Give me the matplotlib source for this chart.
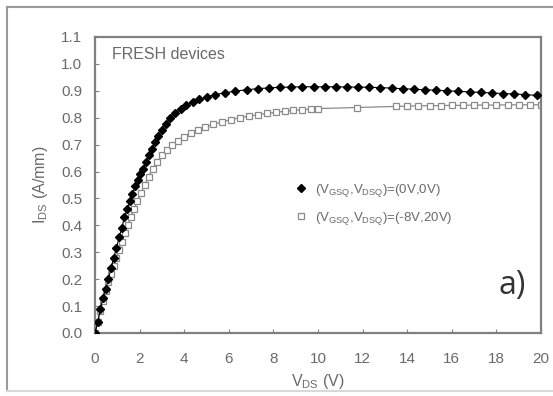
import matplotlib
matplotlib.use('Agg')
from matplotlib import pyplot as plt
from matplotlib.lines import Line2D

plt.rcParams['font.family'] = ['Liberation Sans', 'DejaVu Sans']
plt.rcParams['mathtext.fontset'] = 'custom'
plt.rcParams['mathtext.rm'] = 'Liberation Sans'

# Data (points are denser on the steep part)
vds_fresh = [0.0, 0.12, 0.24, 0.36, 0.48, 0.60, 0.72, 0.84, 0.96, 1.08,
             1.20, 1.32, 1.44, 1.56, 1.68, 1.80, 1.92, 2.04, 2.16, 2.28,
             2.40, 2.54, 2.68, 2.84, 3.00, 3.18, 3.38, 3.60, 3.84, 4.10,
             4.38, 4.68, 5.00, 5.40, 5.85, 6.3, 6.8, 7.3, 7.8, 8.3,
             8.8, 9.3, 9.8, 10.3, 10.8, 11.3, 11.8, 12.3, 12.8, 13.3,
             13.8, 14.3, 14.8, 15.3, 15.8, 16.3, 16.8, 17.3, 17.8, 18.3,
             18.8, 19.3, 19.8]
ids_fresh = [0.00, 0.04, 0.09, 0.13, 0.165, 0.20, 0.24, 0.28, 0.315, 0.355,
             0.39, 0.43, 0.46, 0.49, 0.515, 0.545, 0.57, 0.59, 0.61, 0.635,
             0.66, 0.685, 0.71, 0.733, 0.755, 0.777, 0.798, 0.817, 0.833, 0.847,
             0.858, 0.868, 0.877, 0.886, 0.893, 0.899, 0.904, 0.908, 0.911, 0.913,
             0.914, 0.915, 0.915, 0.915, 0.915, 0.914, 0.914, 0.913, 0.912, 0.910,
             0.908, 0.906, 0.904, 0.902, 0.900, 0.898, 0.896, 0.894, 0.892, 0.890,
             0.888, 0.886, 0.883]

vds_stress = [0.0, 0.12, 0.24, 0.36, 0.48, 0.60, 0.72, 0.84, 0.96, 1.08,
              1.20, 1.33, 1.46, 1.60, 1.75, 1.90, 2.06, 2.22, 2.40, 2.58,
              2.78, 3.00, 3.22, 3.46, 3.72, 4.00, 4.30, 4.60, 4.95, 5.30,
              5.70, 6.1, 6.5, 6.9, 7.3, 7.7, 8.1, 8.5, 8.9, 9.3,
              9.7, 10.0, 11.75, 13.5, 14.0, 14.5, 15.0, 15.5, 16.0, 16.5,
              17.0, 17.5, 18.0, 18.5, 19.0, 19.5, 20.0]
ids_stress = [0.00, 0.04, 0.08, 0.12, 0.155, 0.19, 0.22, 0.25, 0.28, 0.31,
              0.34, 0.37, 0.40, 0.43, 0.46, 0.49, 0.52, 0.55, 0.58, 0.61,
              0.635, 0.66, 0.68, 0.70, 0.715, 0.73, 0.742, 0.754, 0.765, 0.775,
              0.785, 0.793, 0.800, 0.806, 0.811, 0.816, 0.820, 0.824, 0.827, 0.830,
              0.832, 0.834, 0.838, 0.842, 0.843, 0.844, 0.845, 0.845, 0.846, 0.846,
              0.847, 0.847, 0.847, 0.848, 0.848, 0.848, 0.848]

label_fresh = r'(V$_{\rm GSQ}$,V$_{\rm DSQ}$)=(0V,0V)'
label_stress = r'(V$_{\rm GSQ}$,V$_{\rm DSQ}$)=(-8V,20V)'

gray = '#6a6a6a'

fig = plt.figure(figsize=(5.53, 3.96), dpi=100)

# outer frame around the picture
fig.add_artist(Line2D([7/553, 1.0], [1 - 7/396, 1 - 7/396], color='#9a9a9a', lw=1.5))
fig.add_artist(Line2D([7/553, 7/553], [1 - 7/396, 1 - 391/396], color='#9a9a9a', lw=1.5))
fig.add_artist(Line2D([7/553, 1.0], [1 - 391/396, 1 - 391/396], color='#d8d8d8', lw=1.5))

ax = fig.add_axes([95/553, 1 - 333/396, 446/553, 296/396])

# Plot the two curves
ax.plot(vds_stress, ids_stress, color='#8a8a8a', lw=0.9, marker='s', ms=5,
        mfc='white', mec='#8a8a8a', mew=0.9, label=label_stress, zorder=2)
ax.plot(vds_fresh, ids_fresh, color='black', lw=0.8, marker='D', ms=4.2,
        mfc='black', mec='black', label=label_fresh, zorder=3)

ax.set_xlim(0, 20)
ax.set_ylim(0, 1.1)
ax.set_xticks(range(0, 21, 2))
ax.set_yticks([i / 10 for i in range(12)])
ax.set_yticklabels(['%.1f' % (i / 10) for i in range(12)])

for s in ax.spines.values():
    s.set_color('#808080')
    s.set_linewidth(1.6)
ax.tick_params(direction='in', length=3, width=0.8, color='#808080',
               labelcolor=gray, labelsize=11)
ax.tick_params(axis='y', pad=9)
ax.tick_params(axis='x', pad=14)

ax.set_xlabel(r'V$_{\rm DS}$ (V)', color=gray, fontsize=11.5, labelpad=4)
ax.set_ylabel(r'I$_{\rm DS}$ (A/mm)', color=gray, fontsize=11.5, labelpad=8)

ax.text(0.038, 0.965, 'FRESH devices', transform=ax.transAxes, color=gray,
        fontsize=11.5, ha='left', va='top')
ax.text(0.965, 0.16, 'a)', transform=ax.transAxes, color='#333333',
        fontsize=23, ha='right', va='center', family=['Open Sans', 'DejaVu Sans'])

# Legend: fresh first, then stressed
h, l = ax.get_legend_handles_labels()
leg = ax.legend(h[::-1], l[::-1], loc='upper left', bbox_to_anchor=(0.42, 0.55),
                frameon=False, fontsize=9.5, handlelength=1.0, handletextpad=0.6,
                labelspacing=0.8, labelcolor=gray)
for line in leg.get_lines():
    line.set_linestyle('none')

fig.savefig('out.png', dpi=100)
